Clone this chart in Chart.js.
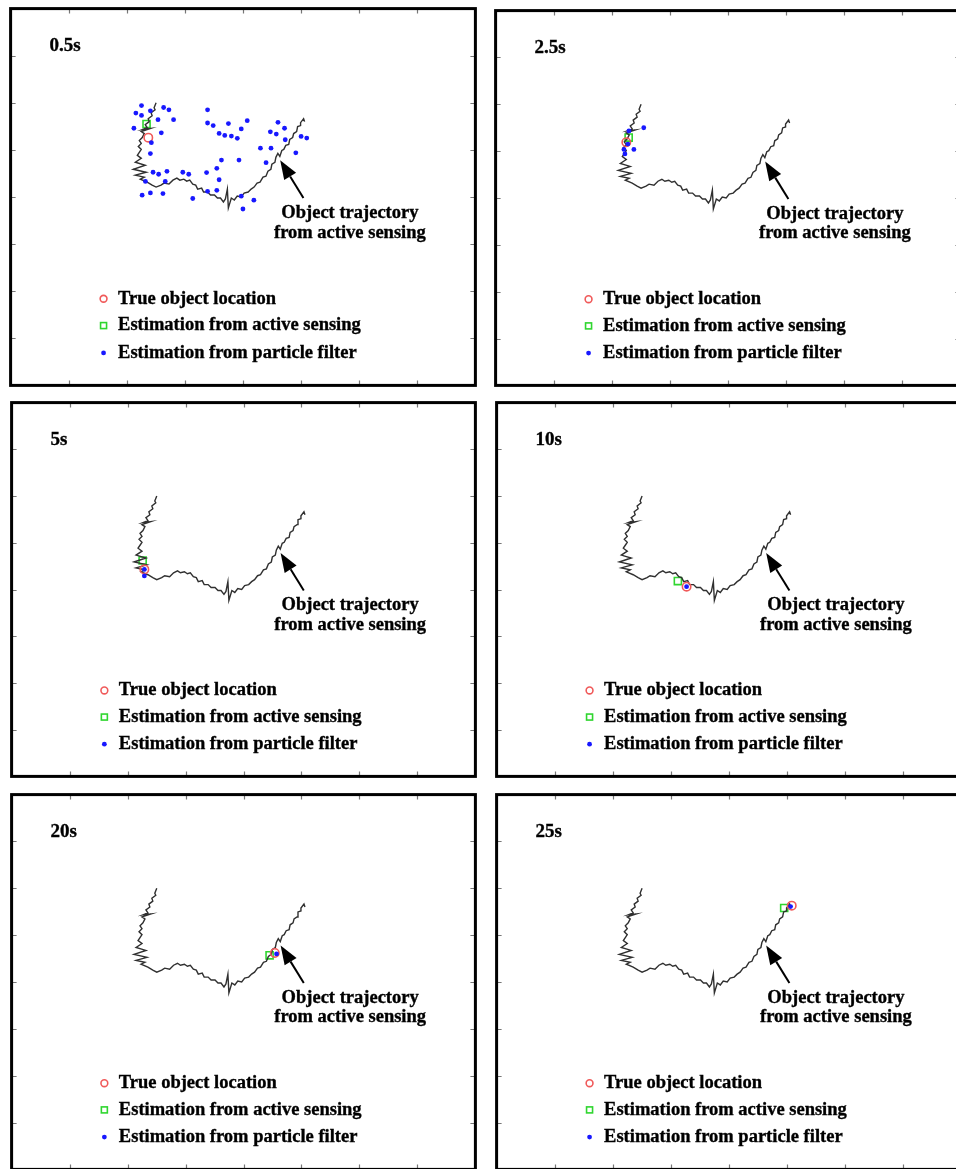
<!DOCTYPE html>
<html><head><meta charset="utf-8">
<script src="https://cdn.jsdelivr.net/npm/chart.js@4.4.0/dist/chart.umd.min.js"></script>
<style>
html,body{margin:0;padding:0;background:#fff;overflow:hidden;width:956px;height:1169px;position:relative;}
canvas{position:absolute;}
</style></head><body>
<script>
// ---------- data ----------
const panelTitles = ['0.5s', '2.5s', '5s', '10s', '20s', '25s'];
const legendLabels = ['True object location', 'Estimation from active sensing', 'Estimation from particle filter'];
const annotationLines = ['Object trajectory', 'from active sensing'];
const axisTicks = [1, 2, 3, 4, 5, 6, 7];

// object trajectory from active sensing (same in every panel)
const trajX = [2.504, 2.470, 2.487, 2.419, 2.436, 2.368, 2.385, 2.317, 2.351, 2.266, 2.402, 2.249, 2.300, 2.266, 2.215, 2.249, 2.198, 2.249, 2.215, 2.181,
  2.249, 2.147, 2.317, 2.112, 2.334, 2.147, 2.300, 2.232, 2.351, 2.436, 2.504,
  2.589, 2.641, 2.726, 2.794, 2.862, 2.913, 2.981, 3.032, 3.083, 3.135, 3.186, 3.220, 3.288, 3.322, 3.390, 3.441, 3.509, 3.560, 3.612, 3.663, 3.697, 3.731, 3.748, 3.799, 3.850, 3.901, 3.969, 4.020, 4.089, 4.140, 4.191, 4.242, 4.293, 4.344, 4.395, 4.429, 4.480, 4.497, 4.549, 4.566, 4.600, 4.634, 4.668, 4.702, 4.736, 4.787, 4.804, 4.855, 4.872, 4.923, 4.940, 4.991, 4.991, 5.043, 5.060];
const trajY = [6.000, 5.895, 5.853, 5.789, 5.726, 5.663, 5.600, 5.537, 5.474, 5.432, 5.453, 5.389, 5.347, 5.263, 5.200, 5.137, 5.074, 5.011, 4.947, 4.884,
  4.821, 4.737, 4.674, 4.589, 4.526, 4.463, 4.421, 4.379, 4.316, 4.253, 4.211,
  4.253, 4.295, 4.274, 4.358, 4.400, 4.358, 4.379, 4.337, 4.358, 4.274, 4.253, 4.168, 4.189, 4.105, 4.105, 4.042, 4.042, 3.979, 3.979, 3.895, 3.958, 4.168, 3.768, 3.979, 3.937, 4.021, 4.000, 4.084, 4.105, 4.168, 4.211, 4.295, 4.316, 4.421, 4.442, 4.547, 4.589, 4.695, 4.737, 4.842, 4.926, 4.863, 4.989, 5.011, 5.095, 5.116, 5.221, 5.263, 5.347, 5.389, 5.495, 5.516, 5.579, 5.663, 5.600];

// true object location per panel
const trueX = [2.37, 2.25, 2.29, 3.27, 4.54, 5.08];
const trueY = [5.26, 5.19, 4.43, 4.06, 4.62, 5.63];
// estimation from active sensing per panel
const activeX = [2.34, 2.29, 2.26, 3.12, 4.45, 4.95];
const activeY = [5.55, 5.29, 4.62, 4.18, 4.57, 5.58];

// particle filter estimates per panel
const particlesX_05 = [2.253, 2.156, 2.253, 2.406, 2.634, 2.725, 2.537, 2.805, 2.122, 2.594, 2.423, 2.406, 3.390, 3.390, 3.487, 3.749, 4.073, 3.970, 3.589, 3.686, 3.800, 3.902, 4.602, 4.715, 4.471, 4.573, 4.727, 5.000, 5.097, 4.909, 4.300, 4.482, 3.629, 3.931, 4.397, 3.549, 2.452, 2.548, 2.691, 2.964, 3.066, 3.373, 3.589, 2.662, 2.321, 2.264, 2.406, 2.622, 3.135, 3.390, 3.549, 3.970, 3.999, 4.187];
const particlesY_05 = [5.941, 5.781, 5.732, 5.830, 5.900, 5.851, 5.642, 5.642, 5.460, 5.362, 5.153, 4.923, 5.851, 5.571, 5.516, 5.558, 5.621, 5.446, 5.349, 5.307, 5.293, 5.245, 5.586, 5.460, 5.383, 5.335, 5.216, 5.286, 5.251, 4.937, 5.036, 5.036, 4.784, 4.784, 4.728, 4.609, 4.525, 4.483, 4.546, 4.525, 4.483, 4.519, 4.366, 4.331, 4.331, 4.038, 4.086, 4.073, 3.968, 4.121, 4.142, 4.017, 3.745, 3.933];
const particlesX_25 = [2.295, 2.550, 2.277, 2.209, 2.380, 2.226];
const particlesY_25 = [5.430, 5.500, 5.150, 5.036, 5.036, 4.940];
const particlesX_5 = [2.29, 2.29];
const particlesY_5 = [4.43, 4.29];
const particlesX_10 = [3.27];
const particlesY_10 = [4.06];
const particlesX_20 = [4.57];
const particlesY_20 = [4.60];
const particlesX_25s = [5.06];
const particlesY_25s = [5.61];

const particlesX = [particlesX_05, particlesX_25, particlesX_5, particlesX_10, particlesX_20, particlesX_25s];
const particlesY = [particlesY_05, particlesY_25, particlesY_5, particlesY_10, particlesY_20, particlesY_25s];

// ---------- layout / style ----------
const frames = [
  {x: 8,   y: 6,   w: 470, h: 382},
  {x: 493, y: 8,   w: 470, h: 380},
  {x: 9,   y: 400, w: 469, h: 379},
  {x: 494, y: 400, w: 470, h: 379},
  {x: 9,   y: 792, w: 469, h: 380},
  {x: 494, y: 792, w: 470, h: 380}
];
const deco = {
  titleAt: [0.67, 7.2],
  legendMarkX: 1.60, legendTextX: 1.85, legendRows: [1.84, 1.27, 0.69],
  arrowTip: [4.64, 4.78], arrowTail: [5.04, 3.98],
  noteX: 5.84, noteRows: [3.66, 3.24]
};
const COL_RED = '#f05a5a', COL_GREEN = '#2fd62f', COL_BLUE = '#1818ff', COL_LINE = '#303030';
const FONT = 'bold 18.5px "Liberation Serif", "Times New Roman", serif';

const toPts = (xs, ys) => xs.map((v, i) => ({x: v, y: ys[i]}));

function drawMarker(ctx, kind, x, y) {
  ctx.save();
  if (kind === 0) { ctx.strokeStyle = COL_RED; ctx.lineWidth = 1.6; ctx.beginPath(); ctx.arc(x, y, 3.4, 0, Math.PI * 2); ctx.stroke(); }
  else if (kind === 1) { ctx.strokeStyle = COL_GREEN; ctx.lineWidth = 1.6; ctx.strokeRect(x - 3, y - 3, 6, 6); }
  else { ctx.fillStyle = COL_BLUE; ctx.beginPath(); ctx.arc(x, y, 2.4, 0, Math.PI * 2); ctx.fill(); }
  ctx.restore();
}
function boldText(ctx, t, x, y) {
  ctx.fillText(t, x, y);
  ctx.lineWidth = 0.35; ctx.strokeStyle = '#000';
  ctx.strokeText(t, x, y);
}

const decoPlugin = {
  id: 'panelDeco',
  afterDatasetsDraw(chart, args, opts) {
    const ctx = chart.ctx, a = chart.chartArea, xs = chart.scales.x, ys = chart.scales.y;
    const X = v => xs.getPixelForValue(v), Y = v => ys.getPixelForValue(v);
    ctx.save();
    // ticks (inward, all 4 sides)
    ctx.strokeStyle = '#777'; ctx.lineWidth = 1.2;
    ctx.beginPath();
    axisTicks.forEach(t => {
      const px = Math.round(X(t)) + 0.5, py = Math.round(Y(t)) + 0.5;
      ctx.moveTo(px, a.bottom); ctx.lineTo(px, a.bottom - 5);
      ctx.moveTo(px, a.top); ctx.lineTo(px, a.top + 5);
      ctx.moveTo(a.left, py); ctx.lineTo(a.left + 5, py);
      ctx.moveTo(a.right, py); ctx.lineTo(a.right - 5, py);
    });
    ctx.stroke();
    // frame
    ctx.strokeStyle = '#000'; ctx.lineWidth = 3;
    ctx.strokeRect(a.left, a.top, a.right - a.left, a.bottom - a.top);
    // title
    ctx.fillStyle = '#000';
    ctx.font = 'bold 19px "Liberation Serif", "Times New Roman", serif';
    ctx.textAlign = 'left'; ctx.textBaseline = 'middle';
    boldText(ctx, opts.title, X(deco.titleAt[0]), Y(deco.titleAt[1]));
    // legend
    ctx.font = FONT;
    legendLabels.forEach((lab, k) => {
      const y = Y(deco.legendRows[k]);
      drawMarker(ctx, k, X(deco.legendMarkX), y);
      ctx.fillStyle = '#000';
      boldText(ctx, lab, X(deco.legendTextX), y);
    });
    // annotation arrow
    const tx = X(deco.arrowTip[0]), ty = Y(deco.arrowTip[1]);
    const sx = X(deco.arrowTail[0]), sy = Y(deco.arrowTail[1]);
    const ang = Math.atan2(ty - sy, tx - sx);
    const hl = 19, hw = 7;
    const bx = tx - hl * Math.cos(ang), by = ty - hl * Math.sin(ang);
    ctx.strokeStyle = '#000'; ctx.lineWidth = 2;
    ctx.beginPath(); ctx.moveTo(sx, sy); ctx.lineTo(bx, by); ctx.stroke();
    ctx.fillStyle = '#000';
    ctx.beginPath();
    ctx.moveTo(tx, ty);
    ctx.lineTo(bx + hw * Math.sin(ang), by - hw * Math.cos(ang));
    ctx.lineTo(bx - hw * Math.sin(ang), by + hw * Math.cos(ang));
    ctx.closePath(); ctx.fill();
    ctx.textAlign = 'center';
    annotationLines.forEach((t, k) => boldText(ctx, t, X(deco.noteX), Y(deco.noteRows[k])));
    ctx.restore();
  }
};

frames.forEach((f, i) => {
  const pad = 4;
  const c = document.createElement('canvas');
  c.width = f.w + 2 * pad; c.height = f.h + 2 * pad;
  c.style.width = c.width + 'px'; c.style.height = c.height + 'px';
  c.style.left = (f.x - pad) + 'px'; c.style.top = (f.y - pad) + 'px';
  document.body.appendChild(c);
  new Chart(c, {
    type: 'scatter',
    data: {
      datasets: [
        {label: 'trajectory', data: toPts(trajX, trajY), showLine: true, borderColor: COL_LINE, borderWidth: 1.4, pointRadius: 0, tension: 0, order: 2},
        {label: legendLabels[0], data: [{x: trueX[i], y: trueY[i]}], pointStyle: 'circle', pointRadius: 4.2, pointBorderWidth: 1.6, borderColor: COL_RED, backgroundColor: 'rgba(0,0,0,0)', order: 1},
        {label: legendLabels[1], data: [{x: activeX[i], y: activeY[i]}], pointStyle: 'rect', pointRadius: 5, pointBorderWidth: 1.6, borderColor: COL_GREEN, backgroundColor: 'rgba(0,0,0,0)', order: 3},
        {label: legendLabels[2], data: toPts(particlesX[i], particlesY[i]), pointStyle: 'circle', pointRadius: 2.4, pointBorderWidth: 0, borderColor: COL_BLUE, backgroundColor: COL_BLUE, order: 0}
      ]
    },
    options: {
      responsive: false, animation: false, devicePixelRatio: 1,
      layout: {padding: pad},
      events: [],
      plugins: {legend: {display: false}, tooltip: {enabled: false}, panelDeco: {title: panelTitles[i]}},
      scales: {
        x: {type: 'linear', min: 0, max: 8, display: false},
        y: {type: 'linear', min: 0, max: 8, display: false}
      }
    },
    plugins: [decoPlugin]
  });
});
</script>
</body></html>
